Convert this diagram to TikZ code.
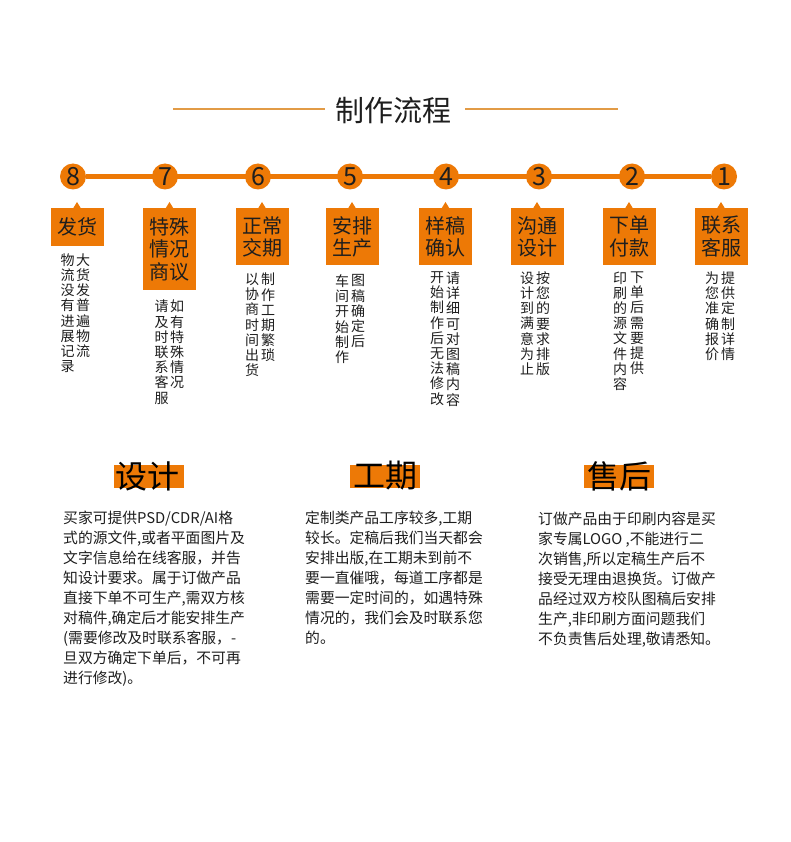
\documentclass[tikz,border=0pt]{standalone}
\usepackage{fontspec}
\setmainfont{Noto Sans CJK SC}
\usetikzlibrary{backgrounds}
\definecolor{org}{RGB}{237,121,6}
\definecolor{gold}{RGB}{226,155,70}
\definecolor{ink}{RGB}{30,30,30}
\begin{document}
\begin{tikzpicture}[x=1pt,y=-1pt,
  num/.style={circle,fill=org,minimum size=26pt,inner sep=0,font=\fontsize{25}{25}\selectfont,text=ink},
  tag/.style={fill=org,minimum width=53pt,inner sep=0,anchor=north,align=center,font=\fontsize{20}{22.5}\selectfont,text=ink},
  vcol/.style={anchor=north,align=center,inner sep=0,font=\fontsize{14}{15.2}\selectfont,text=ink},
  para/.style={anchor=north west,align=left,inner sep=0,font=\fontsize{14.8}{20}\selectfont,text=ink},
  head/.style={font=\fontsize{32}{32}\selectfont,text=black,inner sep=0},
  hl/.style={fill=org,minimum width=70pt,minimum height=23pt,inner sep=0},
  notch/.style={fill=org}]
\useasboundingbox (0,0) rectangle (790,842);
\begin{pgfonlayer}{background}
\fill[white] (0,0) rectangle (790,842);
\end{pgfonlayer}

% title
\node[font=\fontsize{29}{29}\selectfont,text=ink,inner sep=0] (title) at (393,110) {制作流程};
\coordinate (tl1) at (173,109);
\coordinate (tl2) at (325,109);
\coordinate (tr1) at (465,109);
\coordinate (tr2) at (618,109);
\draw[gold,line width=1.2pt] (tl1) -- (tl2);
\draw[gold,line width=1.2pt] (tr1) -- (tr2);

% circles
\node[num] (c8) at (73,176.5) {8};
\node[num] (c7) at (165,176.5) {7};
\node[num] (c6) at (258,176.5) {6};
\node[num] (c5) at (350,176.5) {5};
\node[num] (c4) at (446,176.5) {4};
\node[num] (c3) at (539,176.5) {3};
\node[num] (c2) at (632,176.5) {2};
\node[num] (c1) at (724,176.5) {1};
\begin{pgfonlayer}{background}
\draw[org,line width=5pt] (c8) -- (c1);
\end{pgfonlayer}

% tags
\node[tag,minimum height=38pt] (t8) at (77,208) {发货};
\node[tag,minimum height=82pt] (t7) at (169.5,208) {特殊\\情况\\商议};
\node[tag,minimum height=57pt] (t6) at (262,208) {正常\\交期};
\node[tag,minimum height=57pt] (t5) at (352,208) {安排\\生产};
\node[tag,minimum height=57pt] (t4) at (445.5,208) {样稿\\确认};
\node[tag,minimum height=57pt] (t3) at (537,208) {沟通\\设计};
\node[tag,minimum height=57pt] (t2) at (629,208) {下单\\付款};
\node[tag,minimum height=57pt] (t1) at (721,208) {联系\\客服};
\foreach \t in {t8,t7,t6,t5,t4,t3,t2,t1}{
  \fill[notch] (\t.north) ++(-4,0.5) -- ++(4,-6.5) -- ++(4,6.5) -- cycle;
}

% vertical descriptions
\node[vcol] (v8r) at (83,253.4) {大\\货\\发\\普\\遍\\物\\流};
\node[vcol] (v8l) at (67.5,253.4) {物\\流\\没\\有\\进\\展\\记\\录};
\node[vcol] (v7r) at (177,300) {如\\有\\特\\殊\\情\\况};
\node[vcol] (v7l) at (161.5,300) {请\\及\\时\\联\\系\\客\\服};
\node[vcol] (v6r) at (268,273) {制\\作\\工\\期\\繁\\琐};
\node[vcol] (v6l) at (252,273) {以\\协\\商\\时\\间\\出\\货};
\node[vcol] (v5r) at (358,274.5) {图\\稿\\确\\定\\后};
\node[vcol] (v5l) at (342,274.5) {车\\间\\开\\始\\制\\作};
\node[vcol] (v4r) at (453,271.5) {请\\详\\细\\可\\对\\图\\稿\\内\\容};
\node[vcol] (v4l) at (437,271.5) {开\\始\\制\\作\\后\\无\\法\\修\\改};
\node[vcol] (v3r) at (543,271.5) {按\\您\\的\\要\\求\\排\\版};
\node[vcol] (v3l) at (527,271.5) {设\\计\\到\\满\\意\\为\\止};
\node[vcol] (v2r) at (637,271.5) {下\\单\\后\\需\\要\\提\\供};
\node[vcol] (v2l) at (620,271.5) {印\\刷\\的\\源\\文\\件\\内\\容};
\node[vcol] (v1r) at (728,271.5) {提\\供\\定\\制\\详\\情};
\node[vcol] (v1l) at (712,271.5) {为\\您\\准\\确\\报\\价};

% bottom headings
\node[hl] (h1bg) at (149,476.5) {};
\node[head] (h1) at (147,476) {设计};
\node[hl] (h2bg) at (384.5,476.5) {};
\node[head] (h2) at (385,476) {工期};
\node[hl] (h3bg) at (619,476.5) {};
\node[head] (h3) at (619,476) {售后};

% paragraphs
\node[para] (p1) at (63,511) {买家可提供PSD/CDR/AI格\\式的源文件,或者平面图片及\\文字信息给在线客服，并告\\知设计要求。属于订做产品\\直接下单不可生产,需双方核\\对稿件,确定后才能安排生产\\(需要修改及时联系客服，-\\旦双方确定下单后，不可再\\进行修改)。};
\node[para] (p2) at (305,511) {定制类产品工序较多,工期\\较长。定稿后我们当天都会\\安排出版,在工期未到前不\\要一直催哦，每道工序都是\\需要一定时间的，如遇特殊\\情况的，我们会及时联系您\\的。};
\node[para] (p3) at (538,512) {订做产品由于印刷内容是买\\家专属LOGO ,不能进行二\\次销售,所以定稿生产后不\\接受无理由退换货。订做产\\品经过双方校队图稿后安排\\生产,非印刷方面问题我们\\不负责售后处理,敬请悉知。};
\end{tikzpicture}
\end{document}
